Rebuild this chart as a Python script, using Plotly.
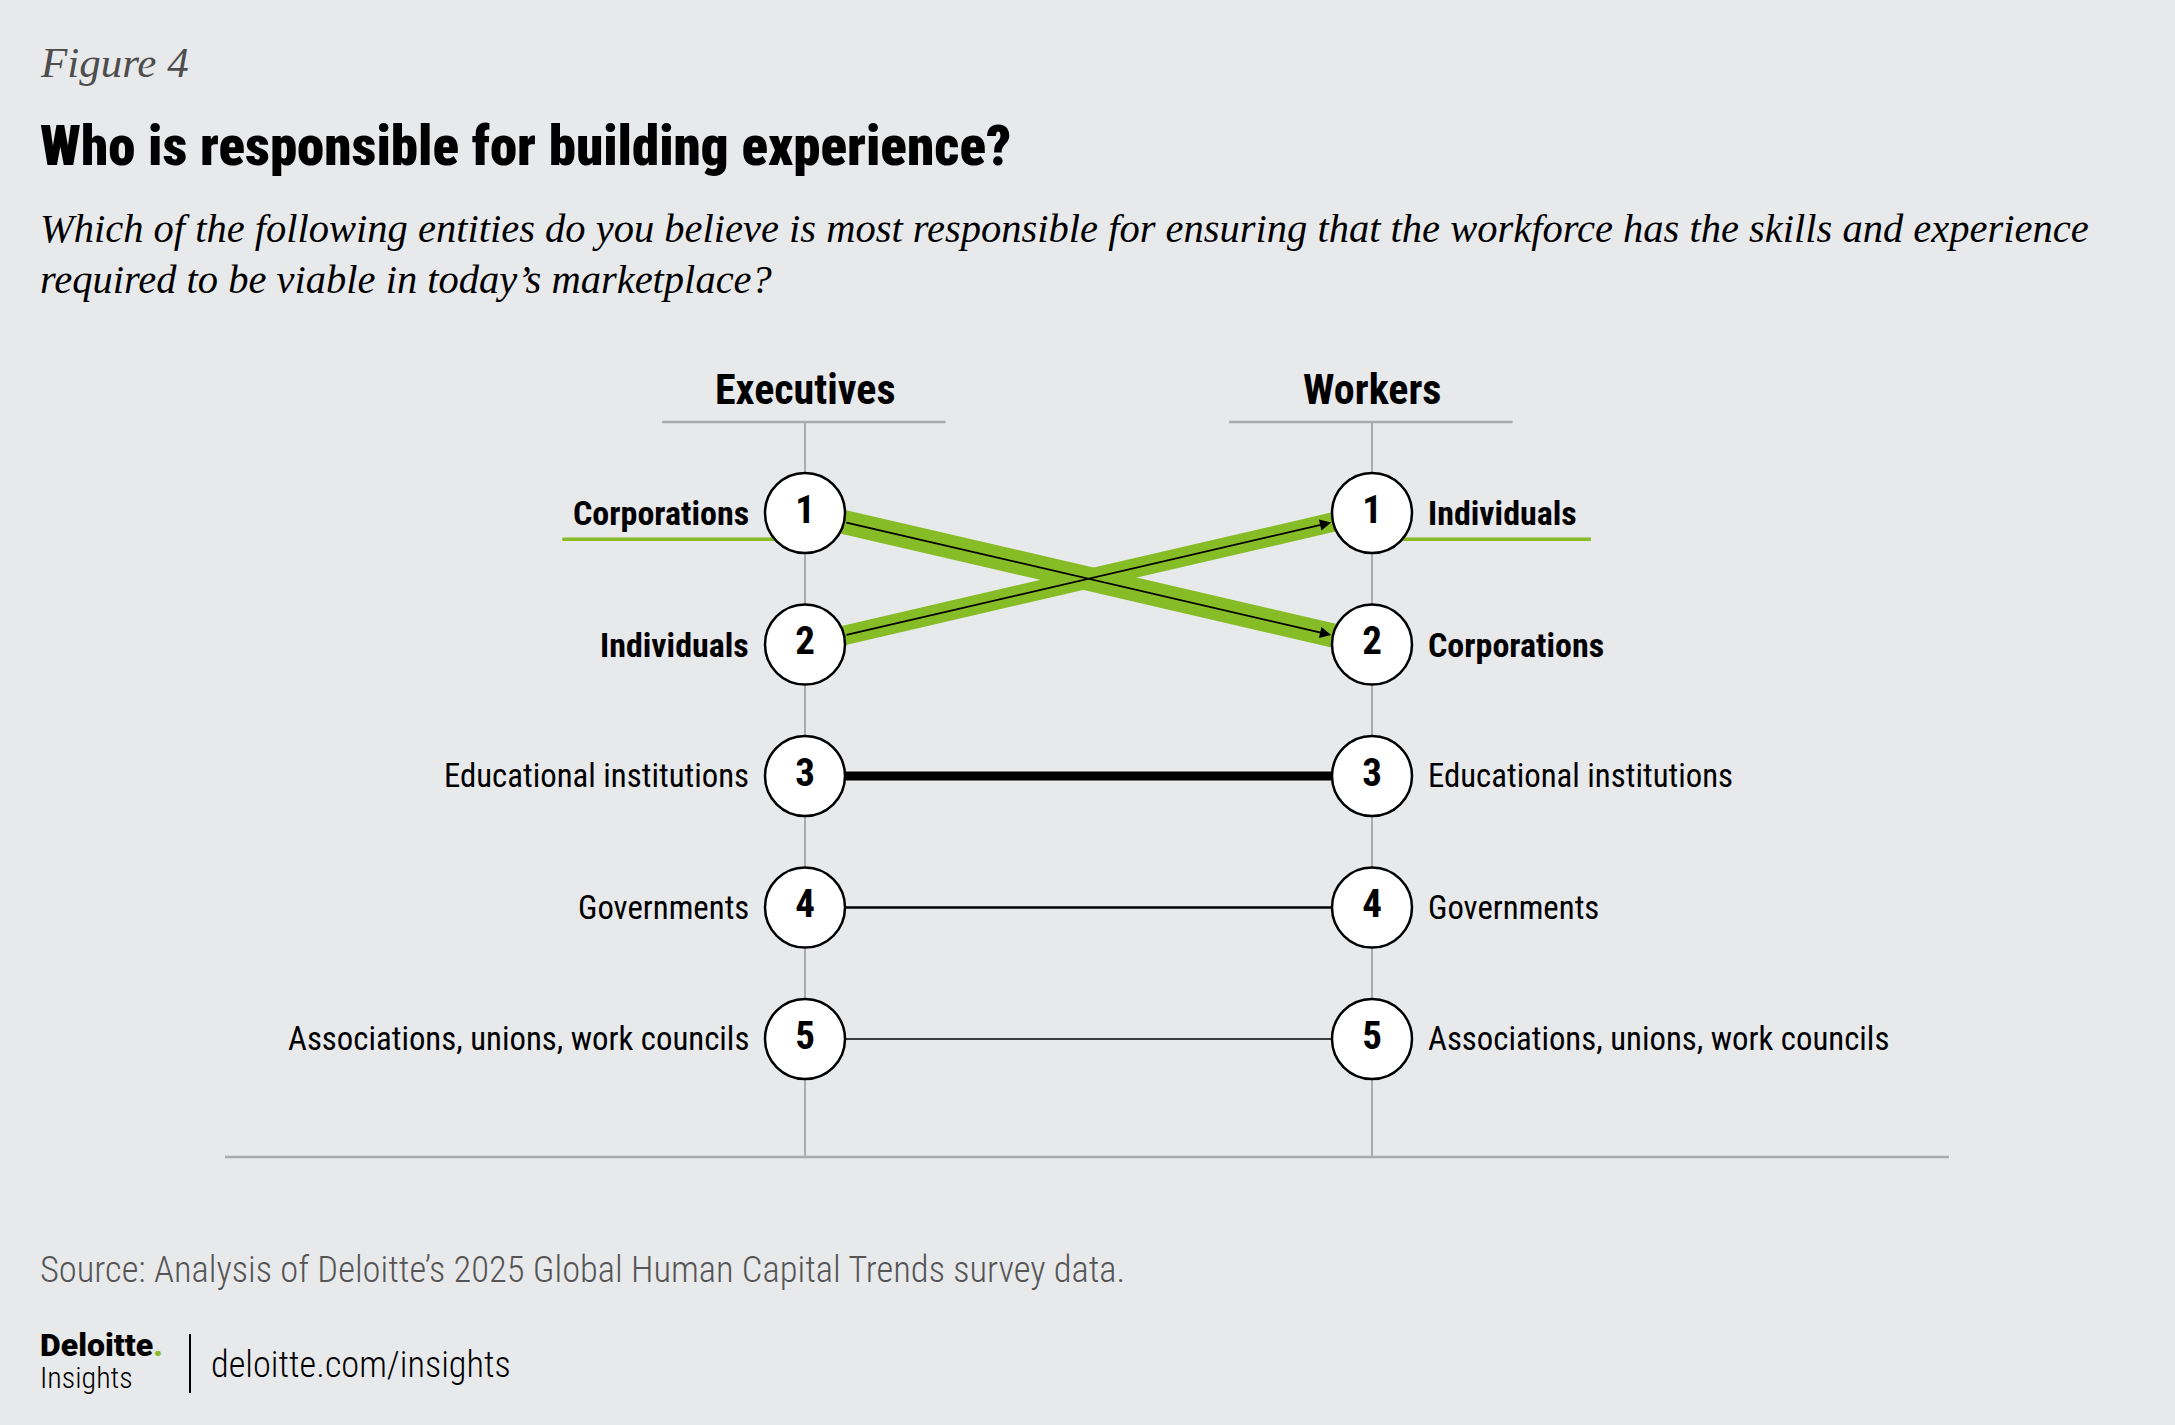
import plotly.graph_objects as go

# ---------------- data ----------------
entities = ["Corporations", "Individuals", "Educational institutions",
            "Governments", "Associations, unions, work councils"]
exec_rank = [1, 2, 3, 4, 5]
worker_rank = [2, 1, 3, 4, 5]
groups = ["Executives", "Workers"]

title = "Who is responsible for building experience?"
fig_label = "Figure 4"
subtitle_lines = [
    "Which of the following entities do you believe is most responsible for ensuring that the workforce has the skills and experience",
    "required to be viable in today’s marketplace?",
]
source = "Source: Analysis of Deloitte’s 2025 Global Human Capital Trends survey data."

# ---------------- styles ----------------
W, H = 2175, 1425
BG = "#E8E9EB"
GREEN = "#86BC25"
GRAY = "#ABABAB"
link_width = [24, 19.5, 9, 2.6, 1.6]
COND = "Roboto Condensed, Archivo Narrow, DejaVu Sans Condensed, sans-serif"
SERIF = "Liberation Serif, DejaVu Serif, serif"

# pixel mapping for the slope axes
X0_PX, X1_PX = 805, 1372
Y1_PX, STEP_PX = 513, 131.5
ux = X1_PX - X0_PX
xrange_ = [(0 - X0_PX) / ux, (W - X0_PX) / ux]
yrange_ = [1 + (H - Y1_PX) / STEP_PX, 1 + (0 - Y1_PX) / STEP_PX]


def px(x):
    return x / W


def py(y):
    return 1 - y / H


fig = go.Figure()

# links
for i, name in enumerate(entities):
    moved = exec_rank[i] != worker_rank[i]
    fig.add_trace(go.Scatter(
        x=[0, 1], y=[exec_rank[i], worker_rank[i]], mode="lines",
        line=dict(color=GREEN if moved else "#000000", width=link_width[i]),
        hoverinfo="skip", showlegend=False))

# circles with rank numbers
for xi, ranks in enumerate([exec_rank, worker_rank]):
    fig.add_trace(go.Scatter(
        x=[xi] * len(ranks), y=ranks, mode="markers+text",
        text=[str(r) for r in ranks], textposition="middle center",
        textfont=dict(family=COND, size=39, color="#000000", weight=700),
        marker=dict(size=80, color="white", line=dict(color="#000000", width=2.5)),
        hoverinfo="skip", showlegend=False))

shapes = []
annotations = []

# arrows for moved entities
for i, name in enumerate(entities):
    if exec_rank[i] != worker_rank[i]:
        annotations.append(dict(
            x=1, y=worker_rank[i], ax=0, ay=exec_rank[i],
            xref="x", yref="y", axref="x", ayref="y", text="",
            showarrow=True, arrowhead=2, arrowsize=1.4, arrowwidth=1.6,
            arrowcolor="#000000", standoff=42, startstandoff=41))

# vertical axis lines, header rules, baseline
for xi in [0, 1]:
    shapes.append(dict(type="line", xref="x", yref="paper", x0=xi, x1=xi,
                       y0=py(422), y1=py(1157), line=dict(color=GRAY, width=2),
                       layer="below"))
    shapes.append(dict(type="line", xref="x", yref="paper", x0=xi - 0.252, x1=xi + 0.248,
                       y0=py(422), y1=py(422), line=dict(color=GRAY, width=2.5),
                       layer="below"))
shapes.append(dict(type="line", xref="paper", yref="paper", x0=px(225), x1=px(1949),
                   y0=py(1157), y1=py(1157), line=dict(color=GRAY, width=2.5),
                   layer="below"))

# group headers
for xi, g in enumerate(groups):
    annotations.append(dict(x=xi, y=py(389), xref="x", yref="paper", text=g,
                            showarrow=False, xanchor="center", yanchor="middle",
                            font=dict(family=COND, size=42, color="#000000", weight=700)))

# labels
for i, name in enumerate(entities):
    for xi, ranks in enumerate([exec_rank, worker_rank]):
        r = ranks[i]
        annotations.append(dict(
            x=xi, y=r, xref="x", yref="y", text=name, showarrow=False,
            xanchor="right" if xi == 0 else "left", yanchor="middle",
            xshift=-54 if xi == 0 else 54,
            font=dict(family=COND, size=34 if r <= 2 else 32.8, color="#000000",
                      weight=700 if r <= 2 else 400)))
        if r == 1:
            if xi == 0:
                x0, x1 = -0.428, 0
            else:
                x0, x1 = 1, 1.386
            shapes.append(dict(type="line", xref="x", yref="y", x0=x0, x1=x1,
                               y0=r + 0.2, y1=r + 0.2,
                               line=dict(color=GREEN, width=3.5), layer="below"))

# headings
annotations.append(dict(x=px(38), y=py(62), xref="paper", yref="paper",
                        text=f"<i>{fig_label}</i>", showarrow=False,
                        xanchor="left", yanchor="middle",
                        font=dict(family=SERIF, size=43, color="#4D4D4D")))
annotations.append(dict(x=px(38), y=py(146), xref="paper", yref="paper",
                        text=title, showarrow=False,
                        xanchor="left", yanchor="middle",
                        font=dict(family=COND, size=55, color="#000000", weight=900)))
for k, line in enumerate(subtitle_lines):
    annotations.append(dict(x=px(38), y=py(229 + 50 * k), xref="paper", yref="paper",
                            text=f"<i>{line}</i>", showarrow=False,
                            xanchor="left", yanchor="middle",
                            font=dict(family=SERIF, size=40.5, color="#000000")))

# source & logo
annotations.append(dict(x=px(38), y=py(1269), xref="paper", yref="paper",
                        text=source, showarrow=False, xanchor="left", yanchor="middle",
                        font=dict(family=COND, size=36.5, color="#555555", weight=300)))
annotations.append(dict(x=px(38), y=py(1345), xref="paper", yref="paper",
                        text=f"Deloitte<span style='color:{GREEN}'>.</span>",
                        showarrow=False, xanchor="left", yanchor="middle",
                        font=dict(family="Roboto, Liberation Sans, sans-serif", size=32,
                                  color="#000000", weight=900)))
annotations.append(dict(x=px(38), y=py(1377), xref="paper", yref="paper",
                        text="Insights", showarrow=False, xanchor="left", yanchor="middle",
                        font=dict(family=COND, size=30, color="#000000", weight=300)))
shapes.append(dict(type="line", xref="paper", yref="paper", x0=px(190), x1=px(190),
                   y0=py(1334), y1=py(1393), line=dict(color="#000000", width=2)))
annotations.append(dict(x=px(209), y=py(1364), xref="paper", yref="paper",
                        text="deloitte.com/insights", showarrow=False,
                        xanchor="left", yanchor="middle",
                        font=dict(family=COND, size=36.3, color="#000000", weight=300)))

fig.update_layout(
    width=W, height=H, margin=dict(l=0, r=0, t=0, b=0),
    paper_bgcolor=BG, plot_bgcolor=BG,
    xaxis=dict(range=xrange_, visible=False, fixedrange=True),
    yaxis=dict(range=yrange_, visible=False, fixedrange=True),
    shapes=shapes, annotations=annotations,
)

fig.write_html("out.html", config={"displayModeBar": False},
               post_script="document.body.style.margin='0px';document.body.style.padding='0px';")
